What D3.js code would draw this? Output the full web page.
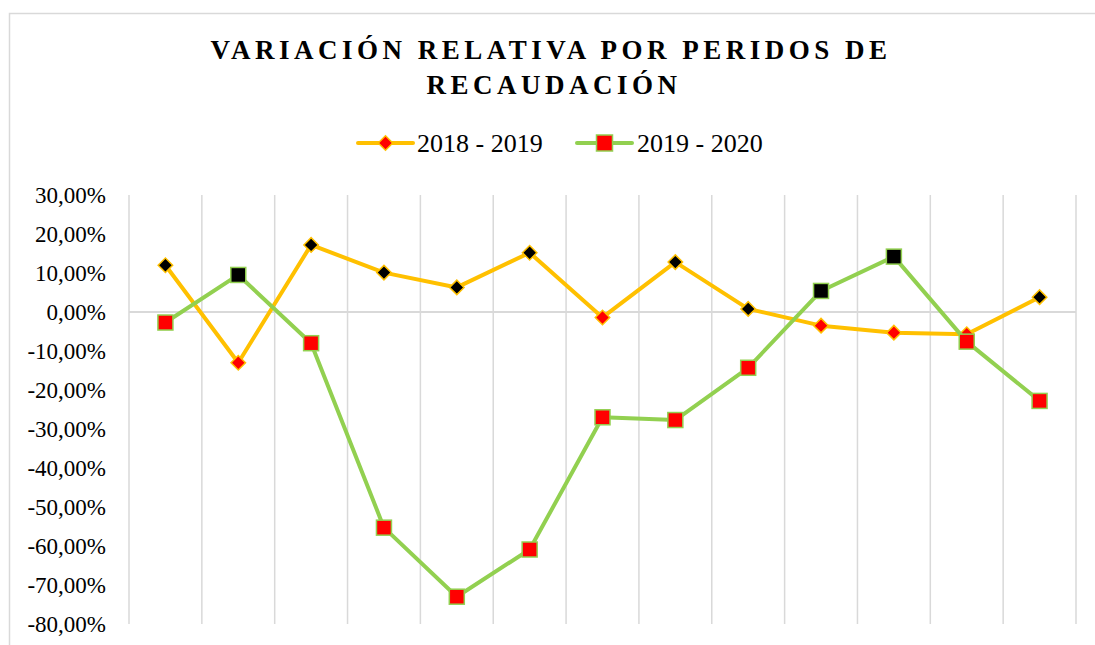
<!DOCTYPE html>
<html>
<head>
<meta charset="utf-8">
<script src="https://cdn.jsdelivr.net/npm/d3@7"></script>
</head>
<body style="margin:0; background:#fff">
<svg id="root"></svg>
<script>
// data (percent)
const periodos = ["1", "2", "3", "4", "5", "6", "7", "8", "9", "10", "11", "12", "13"];
const var2018_2019 = [12.0, -13.0, 17.2, 10.1, 6.3, 15.2, -1.4, 12.8, 0.8, -3.5, -5.3, -5.7, 3.8];
const var2019_2020 = [-2.7, 9.5, -8.0, -55.3, -73.0, -60.9, -27.0, -27.7, -14.3, 5.4, 14.2, -7.6, -22.8];
const yTicks = [30, 20, 10, 0, -10, -20, -30, -40, -50, -60, -70, -80];
const seriesNames = ["2018 - 2019", "2019 - 2020"];

const W = 1095, H = 645;
const plot = { left: 129, right: 1076, top: 195, bottom: 624 };
const serif = "'Liberation Serif', 'Times New Roman', serif";

const svg = d3.select("#root").attr("width", W).attr("height", H).style("display", "block");

svg.append("rect").attr("width", W).attr("height", H).attr("fill", "#fff");

// chart frame (runs off the right and bottom edge)
svg.append("rect")
  .attr("x", 9.5).attr("y", 13.5)
  .attr("width", W + 20).attr("height", H + 20)
  .attr("fill", "none")
  .attr("stroke", "#d9d9d9")
  .attr("stroke-width", 1.5);

// title
const title = svg.append("text")
  .attr("text-anchor", "middle")
  .style("font-family", serif)
  .style("font-weight", "bold")
  .style("font-size", "27px")
  .style("letter-spacing", "4.5px")
  .attr("fill", "#000");
title.append("tspan").attr("x", 551).attr("y", 59).text("VARIACIÓN RELATIVA POR PERIDOS DE");
title.append("tspan").attr("x", 554).attr("y", 94).text("RECAUDACIÓN");

// scales
const x = d3.scaleBand().domain(periodos).range([plot.left, plot.right]);
const y = d3.scaleLinear().domain([-80, 30]).range([plot.bottom, plot.top]);

const esLocale = d3.formatLocale({ decimal: ",", thousands: ".", grouping: [3], currency: ["", ""], minus: "-" });
const fmt = esLocale.format(".2f");

// vertical gridlines between categories
const gridX = periodos.map(d => x(d)).concat([plot.right]);
svg.append("g")
  .selectAll("line")
  .data(gridX)
  .join("line")
  .attr("x1", d => d).attr("x2", d => d)
  .attr("y1", plot.top).attr("y2", plot.bottom)
  .attr("stroke", "#d9d9d9")
  .attr("stroke-width", 1.5);

// zero line (category axis)
svg.append("line")
  .attr("x1", plot.left).attr("x2", plot.right)
  .attr("y1", y(0)).attr("y2", y(0))
  .attr("stroke", "#d9d9d9")
  .attr("stroke-width", 2);

// y axis
const yAxis = d3.axisLeft(y)
  .tickValues(yTicks)
  .tickSize(0)
  .tickPadding(23)
  .tickFormat(d => fmt(d) + "%");
svg.append("g")
  .attr("transform", `translate(${plot.left},0)`)
  .call(yAxis)
  .call(g => g.select(".domain").remove())
  .call(g => g.selectAll("text")
    .style("font-family", serif)
    .style("font-size", "23px")
    .attr("fill", "#000"));

const cx = (d, i) => x(periodos[i]) + x.bandwidth() / 2;
const line = d3.line().x(cx).y(d => y(d));

const yellow = "#ffc000", green = "#92d050", red = "#ff0000";
const diamond = d3.symbol().type(d3.symbolSquare).size(105);

// series 1: 2018 - 2019
svg.append("path")
  .datum(var2018_2019)
  .attr("fill", "none")
  .attr("stroke", yellow)
  .attr("stroke-width", 4)
  .attr("stroke-linejoin", "round")
  .attr("d", line);

svg.append("g")
  .selectAll("path")
  .data(var2018_2019)
  .join("path")
  .attr("transform", (d, i) => `translate(${cx(d, i)},${y(d)}) rotate(45)`)
  .attr("d", diamond)
  .attr("fill", d => d >= 0 ? "#000" : red)
  .attr("stroke", yellow)
  .attr("stroke-width", 1.5);

// series 2: 2019 - 2020
svg.append("path")
  .datum(var2019_2020)
  .attr("fill", "none")
  .attr("stroke", green)
  .attr("stroke-width", 4)
  .attr("stroke-linejoin", "round")
  .attr("d", line);

svg.append("g")
  .selectAll("rect")
  .data(var2019_2020)
  .join("rect")
  .attr("x", (d, i) => cx(d, i) - 7.5)
  .attr("y", d => y(d) - 7.5)
  .attr("width", 15).attr("height", 15)
  .attr("fill", d => d >= 0 ? "#000" : red)
  .attr("stroke", green)
  .attr("stroke-width", 1.5);

// legend
const legY = 143;
const leg1 = svg.append("g");
leg1.append("line").attr("x1", 358).attr("x2", 413).attr("y1", legY).attr("y2", legY)
  .attr("stroke", yellow).attr("stroke-width", 4).attr("stroke-linecap", "round");
leg1.append("path")
  .attr("transform", `translate(385.5,${legY}) rotate(45)`)
  .attr("d", diamond)
  .attr("fill", red).attr("stroke", yellow).attr("stroke-width", 1.5);
leg1.append("text").attr("x", 417).attr("y", legY + 9)
  .style("font-family", serif).style("font-size", "26px")
  .attr("fill", "#000").text(seriesNames[0]);

const leg2 = svg.append("g");
leg2.append("line").attr("x1", 577).attr("x2", 632).attr("y1", legY).attr("y2", legY)
  .attr("stroke", green).attr("stroke-width", 4).attr("stroke-linecap", "round");
leg2.append("rect").attr("x", 596.5).attr("y", legY - 8).attr("width", 16).attr("height", 16)
  .attr("fill", red).attr("stroke", green).attr("stroke-width", 1.5);
leg2.append("text").attr("x", 637).attr("y", legY + 9)
  .style("font-family", serif).style("font-size", "26px")
  .attr("fill", "#000").text(seriesNames[1]);
</script>
</body>
</html>
